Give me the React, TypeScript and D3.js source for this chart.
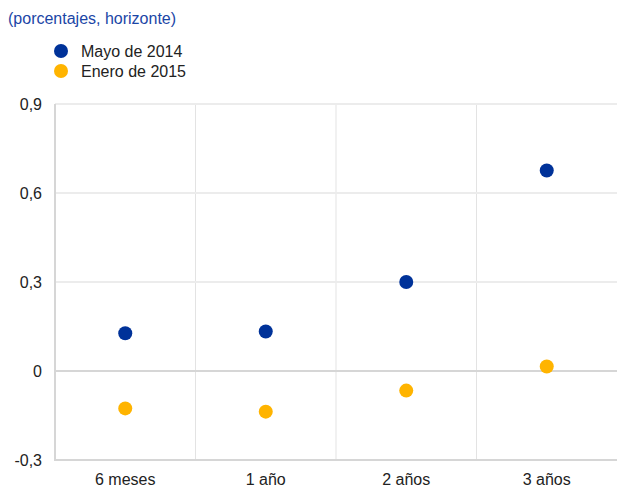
import React from "react";
import * as d3 from "d3";

const categories = ["6 meses", "1 año", "2 años", "3 años"];
const seriesNames = ["Mayo de 2014", "Enero de 2015"];
const mayo2014 = [0.127, 0.133, 0.3, 0.676];
const enero2015 = [-0.126, -0.137, -0.066, 0.015];
const yTicks = [-0.3, 0, 0.3, 0.6, 0.9];
const colors = ["#003299", "#ffb400"];

const W = 617;
const H = 501;
const margin = { left: 55, right: 0, top: 104, bottom: 41 };

export default function App() {
  const x = d3
    .scaleBand<string>()
    .domain(categories)
    .range([margin.left, W - margin.right])
    .padding(0);
  const y = d3
    .scaleLinear()
    .domain([-0.3, 0.9])
    .range([H - margin.bottom, margin.top]);
  const fmt = (v: number) =>
    v === 0 ? "0" : (v < 0 ? "-" : "") + Math.abs(v).toFixed(1).replace(".", ",");
  const series = [mayo2014, enero2015];
  const font = "Arial, 'Liberation Sans', sans-serif";
  const fs = 16;
  return (
    <svg
      width={W}
      height={H}
      style={{ position: "absolute", left: 0, top: 0, fontFamily: font }}
    >
      <text x={8} y={24} fontSize={fs} fill="#1b46a6">
        (porcentajes, horizonte)
      </text>
      {seriesNames.map((n, i) => (
        <g key={n}>
          <circle cx={61} cy={51 + i * 20} r={7} fill={colors[i]} />
          <text x={81} y={57 + i * 20} fontSize={fs} fill="#222">
            {n}
          </text>
        </g>
      ))}
      {categories.slice(1).map((c) => (
        <line
          key={c}
          x1={x(c)!}
          x2={x(c)!}
          y1={y(0.9)}
          y2={y(-0.3)}
          stroke="#e3e3e3"
          strokeWidth={1}
        />
      ))}
      {yTicks.map((t) => (
        <g key={t}>
          <line
            x1={margin.left}
            x2={W}
            y1={y(t)}
            y2={y(t)}
            stroke={t === 0 || t === -0.3 ? "#d6d6d6" : "#ececec"}
            strokeWidth={2}
          />
          <text
            x={42}
            y={y(t) + 6}
            textAnchor="end"
            fontSize={fs}
            fill="#222"
          >
            {fmt(t)}
          </text>
        </g>
      ))}
      <line
        x1={margin.left}
        x2={margin.left}
        y1={y(0.9)}
        y2={y(-0.3) + 1}
        stroke="#d6d6d6"
        strokeWidth={2}
      />
      {categories.map((c) => (
        <text
          key={c}
          x={x(c)! + x.bandwidth() / 2}
          y={485}
          textAnchor="middle"
          fontSize={fs}
          fill="#222"
        >
          {c}
        </text>
      ))}
      {series.map((s, si) =>
        s.map((v, i) => (
          <circle
            key={si + "-" + i}
            cx={x(categories[i])! + x.bandwidth() / 2}
            cy={y(v)}
            r={7}
            fill={colors[si]}
          />
        ))
      )}
    </svg>
  );
}
